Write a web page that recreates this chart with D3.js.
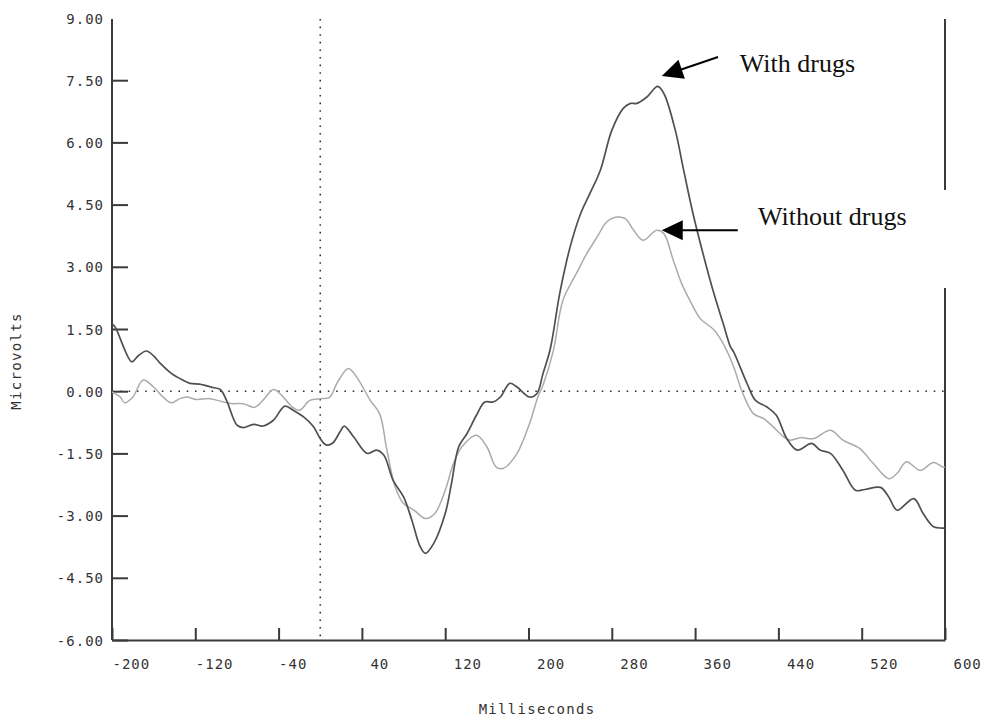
<!DOCTYPE html>
<html>
<head>
<meta charset="utf-8">
<script src="https://cdn.jsdelivr.net/npm/d3@7"></script>
<style>
  html, body { margin: 0; padding: 0; background: #fff; }
  svg { display: block; }
</style>
</head>
<body>
<svg id="chart" width="986" height="719"></svg>
<script>
// ---------- data ----------
const xTicks = [-200, -120, -40, 40, 120, 200, 280, 360, 440, 520, 600];
const yTicks = [-6, -4.5, -3, -1.5, 0, 1.5, 3, 4.5, 6, 7.5, 9];

// [milliseconds, microvolts]
const withDrugs = [
  [-200,1.62],[-197,1.55],[-181,0.71],[-175,0.85],[-167,0.97],[-160,0.85],[-155,0.71],
  [-143,0.43],[-133,0.28],[-125,0.19],[-116,0.17],[-103,0.09],[-96,0.04],[-90,-0.22],
  [-80,-0.82],[-74,-0.88],[-64,-0.80],[-55,-0.84],[-45,-0.70],[-34,-0.36],[-26,-0.46],
  [-16,-0.62],[-7,-0.84],[1,-1.18],[6,-1.30],[12,-1.25],[19,-0.98],[23,-0.84],[32,-1.10],
  [45,-1.50],[54,-1.42],[61,-1.54],[70,-2.15],[80,-2.55],[88,-3.11],[96,-3.75],[101,-3.91],
  [109,-3.67],[120,-2.95],[126,-2.23],[133,-1.34],[141,-1.02],[150,-0.58],[158,-0.26],
  [166,-0.26],[173,-0.14],[182,0.19],[189,0.10],[201,-0.14],[208,-0.06],[214,0.43],
  [221,1.03],[230,2.36],[240,3.48],[250,4.28],[259,4.77],[269,5.33],[280,6.29],[291,6.82],
  [298,6.94],[304,6.94],[314,7.10],[324,7.35],[330,7.18],[341,6.29],[349,5.33],[358,4.28],
  [368,3.28],[378,2.36],[387,1.63],[394,1.07],[397,0.95],[410,0.18],[418,-0.22],[429,-0.38],
  [438,-0.58],[448,-1.14],[458,-1.42],[472,-1.26],[480,-1.42],[490,-1.50],[502,-1.91],
  [514,-2.39],[523,-2.37],[538,-2.32],[546,-2.55],[554,-2.87],[570,-2.59],[579,-2.95],
  [589,-3.27],[597,-3.30],[600,-3.30]
];

const withoutDrugs = [
  [-200,-0.02],[-197,-0.06],[-192,-0.14],[-188,-0.28],[-180,-0.14],[-170,0.27],[-160,0.10],
  [-151,-0.14],[-143,-0.28],[-135,-0.18],[-128,-0.14],[-119,-0.20],[-106,-0.18],[-93,-0.26],
  [-84,-0.30],[-74,-0.30],[-63,-0.39],[-55,-0.22],[-45,0.04],[-37,-0.10],[-27,-0.38],
  [-20,-0.46],[-10,-0.22],[0,-0.18],[9,-0.15],[16,0.19],[27,0.55],[35,0.34],[48,-0.22],
  [57,-0.54],[64,-1.42],[72,-2.31],[80,-2.71],[90,-2.87],[101,-3.07],[110,-2.95],[120,-2.39],
  [128,-1.74],[136,-1.34],[150,-1.06],[160,-1.34],[169,-1.83],[176,-1.86],[189,-1.50],
  [201,-0.78],[209,-0.14],[214,0.15],[224,0.99],[233,2.19],[246,2.84],[256,3.32],[266,3.72],
  [275,4.08],[285,4.20],[293,4.16],[301,3.88],[310,3.64],[323,3.88],[330,3.80],[339,3.16],
  [347,2.60],[355,2.19],[365,1.75],[378,1.48],[388,1.10],[397,0.59],[405,0.00],[416,-0.54],
  [426,-0.66],[435,-0.86],[445,-1.10],[451,-1.18],[461,-1.12],[474,-1.14],[490,-0.94],
  [502,-1.18],[518,-1.38],[531,-1.74],[546,-2.11],[554,-1.98],[563,-1.70],[576,-1.91],
  [589,-1.72],[598,-1.83],[600,-1.83]
];

// annotations: label, text anchor [ms, µV], arrow tail [ms, µV], arrow tip [ms, µV]
const annotations = [
  { label: "With drugs",    text: [403, 7.69], tail: [382, 8.06], tip: [328, 7.60] },
  { label: "Without drugs", text: [420.5, 4.0], tail: [401, 3.88], tip: [328, 3.88] }
];

// ---------- drawing ----------
const svg = d3.select("#chart");
const x = d3.scaleLinear().domain([-200, 600]).range([112, 945]);
const y = d3.scaleLinear().domain([-6, 9]).range([640, 18]);

const mono = "'DejaVu Sans Mono', monospace";
const axisColor = "#3a3a3a";

// reference lines (dotted)
svg.append("line")
  .attr("x1", x(-200)).attr("x2", x(600))
  .attr("y1", y(0)).attr("y2", y(0))
  .attr("stroke", "#333").attr("stroke-width", 1.6)
  .attr("stroke-dasharray", "1.6,6.7");
svg.append("line")
  .attr("x1", x(0)).attr("x2", x(0))
  .attr("y1", y(9) + 1).attr("y2", y(-6))
  .attr("stroke", "#333").attr("stroke-width", 1.6)
  .attr("stroke-dasharray", "1.6,6");

// right border line
svg.append("line")
  .attr("x1", x(600)).attr("x2", x(600))
  .attr("y1", y(9) + 1).attr("y2", y(-6))
  .attr("stroke", axisColor).attr("stroke-width", 2);

// left axis
const yAxis = d3.axisLeft(y)
  .tickValues(yTicks)
  .tickFormat(d => d.toFixed(2))
  .tickSizeInner(-16).tickSizeOuter(0).tickPadding(8);
const gy = svg.append("g").attr("transform", `translate(${x(-200)},0)`).call(yAxis);
gy.select(".domain").attr("stroke", axisColor).attr("stroke-width", 2)
  .attr("d", `M0,${y(9) + 1}V${y(-6)}`);
gy.selectAll(".tick line").attr("stroke", axisColor).attr("stroke-width", 2)
  .filter(d => d === 9).remove();
gy.selectAll(".tick text")
  .attr("font-family", mono).attr("font-size", 14).attr("letter-spacing", 1)
  .attr("fill", "#333").attr("dy", "0.36em");

// bottom axis
const xAxis = d3.axisBottom(x)
  .tickValues(xTicks)
  .tickFormat(d => String(d))
  .tickSizeInner(-12).tickSizeOuter(0).tickPadding(19);
const gx = svg.append("g").attr("transform", `translate(0,${y(-6)})`).call(xAxis);
gx.select(".domain").attr("stroke", axisColor).attr("stroke-width", 2);
gx.selectAll(".tick line").attr("stroke", axisColor).attr("stroke-width", 2);
gx.selectAll(".tick text")
  .attr("font-family", mono).attr("font-size", 14).attr("letter-spacing", 1)
  .attr("fill", "#333")
  .attr("text-anchor", "start")
  .attr("x", d => d < 0 ? 0 : 8);

// axis titles
svg.append("text")
  .attr("x", 537).attr("y", 714)
  .attr("text-anchor", "middle")
  .attr("font-family", mono).attr("font-size", 14).attr("letter-spacing", 1.3)
  .attr("fill", "#333")
  .text("Milliseconds");
svg.append("text")
  .attr("transform", "translate(21,361) rotate(-90)")
  .attr("text-anchor", "middle")
  .attr("font-family", mono).attr("font-size", 14).attr("letter-spacing", 1.3)
  .attr("fill", "#333")
  .text("Microvolts");

// series lines
const line = d3.line()
  .x(d => x(d[0])).y(d => y(d[1]))
  .curve(d3.curveCatmullRom.alpha(0.5));

svg.append("path").datum(withoutDrugs)
  .attr("d", line).attr("fill", "none")
  .attr("stroke", "#ababab").attr("stroke-width", 1.5);
svg.append("path").datum(withDrugs)
  .attr("d", line).attr("fill", "none")
  .attr("stroke", "#505050").attr("stroke-width", 1.7);

// white patch covering part of the right border (as in the reference)
svg.append("rect")
  .attr("x", 750).attr("y", 190).attr("width", 210).attr("height", 98)
  .attr("fill", "#fff");

// annotations
const headLen = 21, headHalf = 10;
annotations.forEach(a => {
  const tx = x(a.tail[0]), ty = y(a.tail[1]);
  const px = x(a.tip[0]), py = y(a.tip[1]);
  const dx = px - tx, dy = py - ty, L = Math.hypot(dx, dy);
  const ux = dx / L, uy = dy / L;
  const bx = px - ux * headLen, by = py - uy * headLen;
  svg.append("line")
    .attr("x1", tx).attr("y1", ty).attr("x2", bx + ux * 2).attr("y2", by + uy * 2)
    .attr("stroke", "#000").attr("stroke-width", 2);
  svg.append("polygon")
    .attr("points", [
      [px, py],
      [bx - uy * headHalf, by + ux * headHalf],
      [bx + uy * headHalf, by - ux * headHalf]
    ].map(p => p.join(",")).join(" "))
    .attr("fill", "#000");
  svg.append("text")
    .attr("x", x(a.text[0])).attr("y", y(a.text[1]))
    .attr("font-family", "'Liberation Serif', 'Times New Roman', serif")
    .attr("font-size", 26).attr("fill", "#111")
    .text(a.label);
});
</script>
</body>
</html>
